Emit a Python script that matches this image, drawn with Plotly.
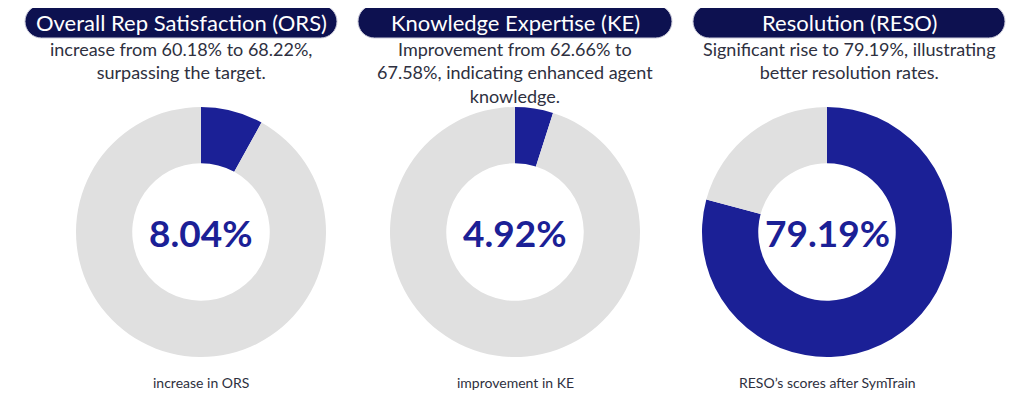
import plotly.graph_objects as go

# page body has an 8px margin, so work in reference pixels and shift by OFF
OFF = 8
W, H = 1024 - OFF, 393 - OFF

titles = ["Overall Rep Satisfaction (ORS)", "Knowledge Expertise (KE)", "Resolution (RESO)"]
subtitles = [
    "increase from 60.18% to 68.22%,<br>surpassing the target.",
    "Improvement from 62.66% to<br>67.58%, indicating enhanced agent<br>knowledge.",
    "Significant rise to 79.19%, illustrating<br>better resolution rates.",
]
values = [8.04, 4.92, 79.19]
center_labels = ["8.04%", "4.92%", "79.19%"]
captions = ["increase in ORS", "improvement in KE", "RESO\u2019s scores after SymTrain"]

BLUE = "#1b2096"
GREY = "#e0e0e0"
NAVY = "#0d1150"
TEXT = "#2e3040"
FONT = "Lato"

centers_x = [201, 515, 827]
center_y = 232
radius = 125
pills = [(25, 337), (358, 672), (693, 1005)]
pill_top, pill_bot = 5, 38

fig = go.Figure()

def px_x(v):
    return (v - OFF) / W

def px_y(v):
    return 1 - (v - OFF) / H

for i in range(3):
    cx = centers_x[i]
    fig.add_trace(go.Pie(
        values=[values[i], 100 - values[i]],
        labels=["value", "rest"],
        marker=dict(colors=[BLUE, GREY], line=dict(width=0)),
        hole=0.55,
        sort=False,
        direction="clockwise",
        rotation=0,
        textinfo="none",
        hoverinfo="skip",
        showlegend=False,
        domain=dict(x=[px_x(cx - radius), px_x(cx + radius)],
                    y=[px_y(center_y + radius), px_y(center_y - radius)]),
    ))

shapes = []
for (x0, x1) in pills:
    r = (pill_bot - pill_top) / 2
    k = 0.5523 * r
    X = lambda v: f"{px_x(v):.5f}"
    Y = lambda v: f"{px_y(v):.5f}"
    path = (
        f"M {X(x0 + r)},{Y(pill_top)} "
        f"L {X(x1 - r)},{Y(pill_top)} "
        f"C {X(x1 - r + k)},{Y(pill_top)} {X(x1)},{Y(pill_top + r - k)} {X(x1)},{Y(pill_top + r)} "
        f"C {X(x1)},{Y(pill_top + r + k)} {X(x1 - r + k)},{Y(pill_bot)} {X(x1 - r)},{Y(pill_bot)} "
        f"L {X(x0 + r)},{Y(pill_bot)} "
        f"C {X(x0 + r - k)},{Y(pill_bot)} {X(x0)},{Y(pill_top + r + k)} {X(x0)},{Y(pill_top + r)} "
        f"C {X(x0)},{Y(pill_top + r - k)} {X(x0 + r - k)},{Y(pill_top)} {X(x0 + r)},{Y(pill_top)} Z"
    )
    shapes.append(dict(type="path", path=path, xref="paper", yref="paper",
                       fillcolor=NAVY, line=dict(width=1, color="#c8c8d8"), layer="below"))

annotations = []
for i in range(3):
    x0, x1 = pills[i]
    pcx = (x0 + x1) / 2
    annotations.append(dict(x=px_x(pcx), y=px_y((pill_top + pill_bot) / 2 + 1), xref="paper", yref="paper",
                            text=titles[i], showarrow=False, xanchor="center", yanchor="middle",
                            font=dict(family=FONT, size=22, color="white")))
    annotations.append(dict(x=px_x(pcx), y=px_y(36), xref="paper", yref="paper",
                            text=subtitles[i], showarrow=False, xanchor="center", yanchor="top",
                            font=dict(family=FONT, size=18, color=TEXT)))
    annotations.append(dict(x=px_x(centers_x[i]), y=px_y(center_y), xref="paper", yref="paper",
                            text=f"<b>{center_labels[i]}</b>", showarrow=False,
                            xanchor="center", yanchor="middle",
                            font=dict(family=FONT, size=37, color=BLUE)))
    annotations.append(dict(x=px_x(centers_x[i]), y=px_y(382), xref="paper", yref="paper",
                            text=captions[i], showarrow=False, xanchor="center", yanchor="middle",
                            font=dict(family=FONT, size=14, color=TEXT)))

fig.update_layout(
    width=W, height=H,
    margin=dict(l=0, r=0, t=0, b=0),
    paper_bgcolor="white", plot_bgcolor="white",
    shapes=shapes, annotations=annotations,
)

fig.write_html("out.html", config={"displayModeBar": False})
